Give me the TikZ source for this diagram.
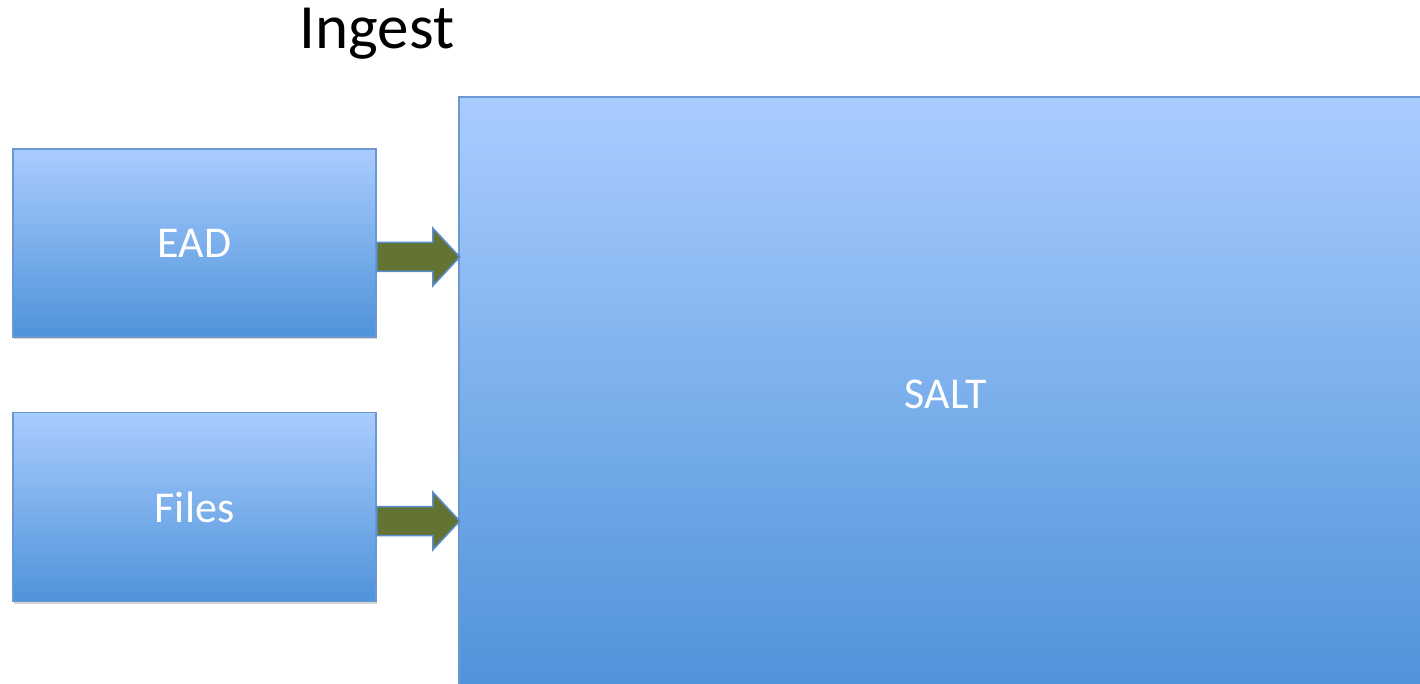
\documentclass[tikz,border=0pt]{standalone}
\usepackage{fontspec}
\setmainfont{Carlito}
\usetikzlibrary{positioning,shadows}
\definecolor{boxtop}{RGB}{169,204,255}
\definecolor{boxbottom}{RGB}{79,147,217}
\definecolor{boxline}{RGB}{106,152,210}
\definecolor{olivegreen}{RGB}{98,115,52}
\definecolor{arrowline}{RGB}{91,143,208}

\tikzset{
	stagebox/.style={rectangle, draw=boxline, line width=1.5pt, top color=boxtop, bottom color=boxbottom, text=white, font=\fontsize{44}{52}\selectfont, drop shadow={shadow xshift=1pt, shadow yshift=-2pt, opacity=0.35}},
	feedarrow/.style={draw=arrowline, line width=1.5pt, fill=olivegreen, line join=miter}
}

\begin{document}
\begin{tikzpicture}[x=1pt, y=1pt]

	\useasboundingbox (0,0) rectangle (1420,683);
	\clip (0,0) rectangle (1420,683);

	\node (title) at (377,649) {\fontsize{63}{75}\selectfont Ingest};

	\node (ead) [stagebox, minimum width=363pt, minimum height=188pt] at (194.5,440) {EAD};
	\node (files) [stagebox, minimum width=363pt, minimum height=189pt, below=74pt of ead] {Files};
	\node (salt) [stagebox, minimum width=974pt, minimum height=594pt] at (946,289) {SALT};

	\foreach \src in {ead,files}
		\draw[feedarrow] (\src.east) ++(0,0.5) -- ++(56,0) -- ++(0,14.5) -- ++(27,-29) -- ++(-27,-29) -- ++(0,14.5) -- ++(-56,0) -- cycle;

\end{tikzpicture}
\end{document}
